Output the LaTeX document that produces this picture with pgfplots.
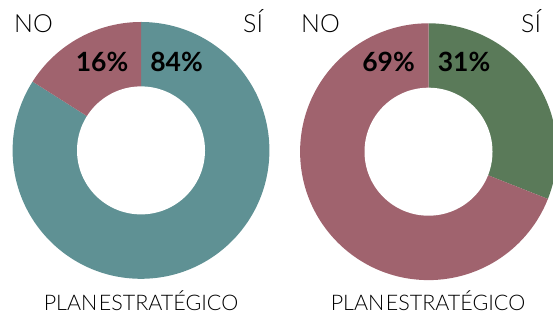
\documentclass[border=0pt]{standalone}
\usepackage{pgfplots}
\pgfplotsset{compat=1.18}
\usepackage{pgfplotstable}
\usepackage{fontspec}
\setmainfont{Lato}
\newfontfamily\lightfont{Lato Light}
\definecolor{cTeal}{RGB}{95,145,148}
\definecolor{cMauve}{RGB}{160,99,110}
\definecolor{cGreen}{RGB}{90,122,89}

\pgfplotstableread{
label value
SI 84
NO 16
}\planA
\pgfplotstableread{
label value
SI 31
NO 69
}\planB

\begin{document}
\begin{tikzpicture}
\useasboundingbox (0,0) rectangle (553pt,315pt);
\pgfplotstablegetelem{0}{value}\of\planA \pgfmathsetmacro\aSi{\pgfplotsretval}
\pgfplotstablegetelem{1}{value}\of\planA \pgfmathsetmacro\aNo{\pgfplotsretval}
\pgfplotstablegetelem{0}{value}\of\planB \pgfmathsetmacro\bSi{\pgfplotsretval}
\pgfplotstablegetelem{1}{value}\of\planB \pgfmathsetmacro\bNo{\pgfplotsretval}
\pgfmathsetmacro\aSiEnd{90-3.6*\aSi}
\pgfmathsetmacro\aNoEnd{90+3.6*\aNo}
\pgfmathsetmacro\bSiEnd{90-3.6*\bSi}
\pgfmathsetmacro\bNoEnd{90+3.6*\bNo}
\begin{axis}[x=1pt,y=1pt,xmin=0,xmax=553,ymin=0,ymax=315,
  at={(0,0)},anchor=south west,
  hide axis,scale only axis,clip=true]
% left donut
\fill[cTeal] (axis cs:141,164.6) -- ++(90:128.4pt) arc[start angle=90,end angle=\aSiEnd,radius=128.4pt] -- cycle;
\fill[cMauve] (axis cs:141,164.6) -- ++(90:128.4pt) arc[start angle=90,end angle=\aNoEnd,radius=128.4pt] -- cycle;
\fill[white] (axis cs:141,164.6) circle[radius=64pt];
% right donut
\fill[cGreen] (axis cs:428.5,163.3) -- ++(90:128.4pt) arc[start angle=90,end angle=\bSiEnd,radius=128.4pt] -- cycle;
\fill[cMauve] (axis cs:428.5,163.3) -- ++(90:128.4pt) arc[start angle=90,end angle=\bNoEnd,radius=128.4pt] -- cycle;
\fill[white] (axis cs:428.5,163.3) circle[radius=64pt];
% labels
\node[anchor=base west,inner sep=0pt,font=\lightfont\fontsize{25}{25}\selectfont] at (axis cs:14,282) {NO};
\node[anchor=base west,inner sep=0pt,font=\lightfont\fontsize{25}{25}\selectfont] at (axis cs:243,282) {SÍ};
\node[anchor=base west,inner sep=0pt,font=\lightfont\fontsize{25}{25}\selectfont] at (axis cs:301,282) {NO};
\node[anchor=base west,inner sep=0pt,font=\lightfont\fontsize{25}{25}\selectfont] at (axis cs:521,282) {SÍ};
\node[anchor=base,inner sep=0pt,font=\bfseries\fontsize{26.5}{26.5}\selectfont] at (axis cs:102,243) {\aNo\%};
\node[anchor=base,inner sep=0pt,font=\bfseries\fontsize{26.5}{26.5}\selectfont] at (axis cs:176.5,243) {\aSi\%};
\node[anchor=base,inner sep=0pt,font=\bfseries\fontsize{26.5}{26.5}\selectfont] at (axis cs:388.5,243) {\bNo\%};
\node[anchor=base,inner sep=0pt,font=\bfseries\fontsize{26.5}{26.5}\selectfont] at (axis cs:464,243) {\bSi\%};
\node[anchor=base,inner sep=0pt,font=\lightfont\fontsize{21.5}{21.5}\selectfont] at (axis cs:141,4) {PLAN\hspace{1.5pt}ESTRATÉGICO};
\node[anchor=base,inner sep=0pt,font=\lightfont\fontsize{21.5}{21.5}\selectfont] at (axis cs:428,4) {PLAN\hspace{1.5pt}ESTRATÉGICO};
\end{axis}
\end{tikzpicture}
\end{document}
